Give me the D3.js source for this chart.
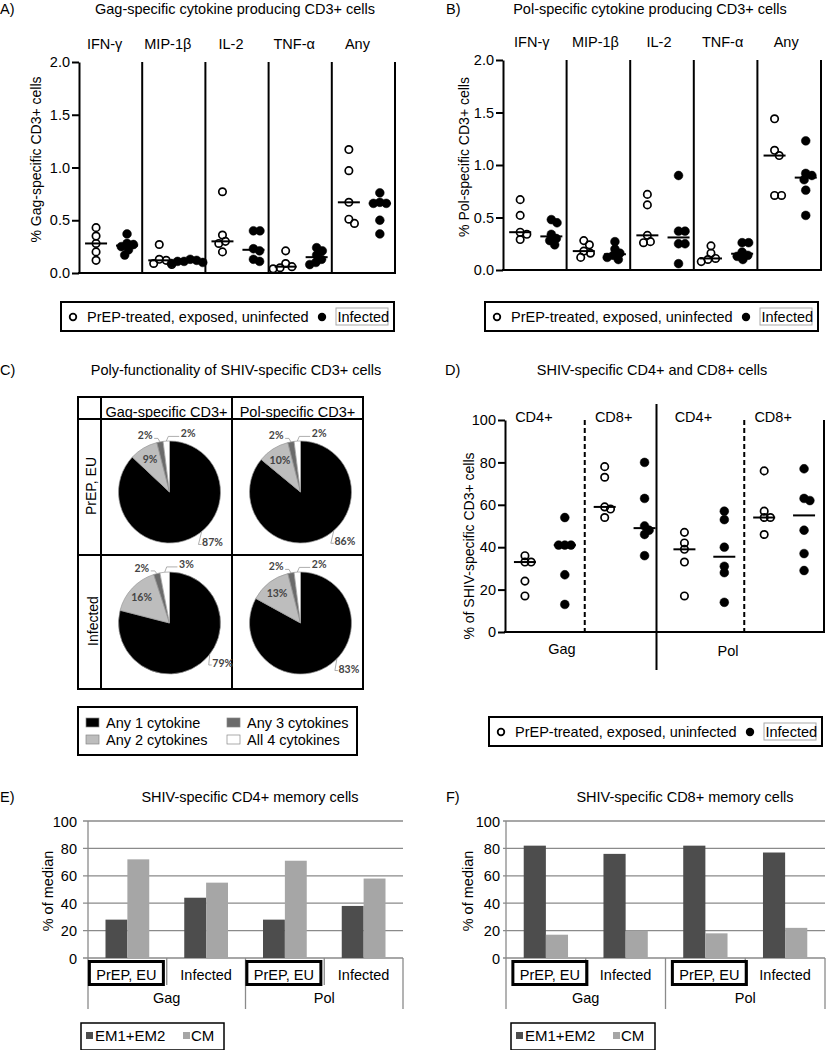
<!DOCTYPE html>
<html><head><meta charset="utf-8">
<script src="https://cdn.jsdelivr.net/npm/d3@7"></script>
<style>body{margin:0;background:#fff}svg{display:block}</style>
</head><body>
<script>
// ---------------- DATA ----------------
const cytokines = ["IFN-γ","MIP-1β","IL-2","TNF-α","Any"];
const yTicksCyto = [0.0,0.5,1.0,1.5,2.0];
// Panel A (Gag) – one array per cytokine
const gagUninfected = [[0.43,0.35,0.28,0.20,0.12],[0.27,0.13,0.12,0.09,0.08],[0.77,0.36,0.30,0.28,0.20],[0.21,0.09,0.06,0.05,0.04],[1.17,0.97,0.67,0.51,0.47]];
const gagInfected   = [[0.37,0.28,0.27,0.25,0.22,0.17],[0.13,0.12,0.11,0.11,0.10,0.09],[0.40,0.40,0.23,0.21,0.13,0.11],[0.24,0.21,0.17,0.13,0.10,0.08],[0.76,0.67,0.66,0.66,0.50,0.37]];
// Panel B (Pol)
const polUninfected = [[0.67,0.52,0.36,0.34,0.29],[0.28,0.24,0.18,0.16,0.12],[0.72,0.62,0.33,0.27,0.26],[0.23,0.16,0.11,0.10,0.08],[1.44,1.14,1.09,0.71,0.71]];
const polInfected   = [[0.48,0.45,0.34,0.30,0.28,0.24],[0.27,0.20,0.16,0.14,0.12,0.10],[0.90,0.37,0.37,0.25,0.25,0.06],[0.26,0.26,0.17,0.14,0.13,0.10],[1.23,0.92,0.90,0.86,0.76,0.52]];
// Panel C (pies)
const pieCategories = ["Any 1 cytokine","Any 2 cytokines","Any 3 cytokines","All 4 cytokines"];
const pieColumns = ["Gag-specific CD3+","Pol-specific CD3+"];
const pieRows = ["PrEP, EU","Infected"];
const pieGagEU = [87,9,2,2];
const piePolEU = [86,10,2,2];
const pieGagInf = [79,16,2,3];
const piePolInf = [83,13,2,2];
// Panel D
const dSubsets = ["CD4+","CD8+","CD4+","CD8+"];
const dAntigens = ["Gag","Pol"];
const dTicks = [0,20,40,60,80,100];
const dUninfected = [[36,33,33,24,17],[78,73,59,58,54],[47,42,39,33,17],[76,57,54,54,46]];
const dInfected   = [[54,41,41,41,27,13],[80,63,50,48,46,36],[57,53,40,31,28,14],[77,63,62,48,37,29]];
// Panels E / F
const memCategories = ["PrEP, EU","Infected","PrEP, EU","Infected"];
const memAntigens = ["Gag","Pol"];
const memSeries = ["EM1+EM2","CM"];
const memTicks = [0,20,40,60,80,100];
const cd4EM = [28,44,28,38];
const cd4CM = [72,55,71,58];
const cd8EM = [82,76,82,77];
const cd8CM = [17,20,18,22];

// ---------------- DRAWING ----------------
const FONT = "'Liberation Sans', Arial, Helvetica, sans-serif";
const svg = d3.select("body").append("svg").attr("width",826).attr("height",1050)
  .style("font-family",FONT);

function txt(x,y,s,o={}){
  return svg.append("text").attr("x",x).attr("y",y).text(s)
    .attr("font-size",o.size||14.5).attr("text-anchor",o.anchor||"start")
    .attr("fill",o.fill||"#000").attr("font-weight",o.weight||"normal")
    .attr("font-family",o.family||FONT);
}
function vtxt(x,y,s,o={}){
  svg.append("text").attr("transform",`translate(${x},${y}) rotate(-90)`).text(s)
    .attr("font-size",o.size||14.5).attr("text-anchor","middle").attr("font-family",FONT);
}
function line(x1,y1,x2,y2,o={}){
  return svg.append("line").attr("x1",x1).attr("y1",y1).attr("x2",x2).attr("y2",y2)
    .attr("stroke",o.stroke||"#000").attr("stroke-width",o.w||2)
    .attr("stroke-dasharray",o.dash||null);
}
function styleAxis(ax,w=2,size=14.5){
  ax.attr("font-family",FONT);
  ax.select(".domain").attr("stroke-width",w);
  ax.selectAll(".tick line").attr("stroke-width",w);
  ax.selectAll(".tick text").attr("font-size",size).attr("fill","#000");
}
function swarm(vals,cx,y,sep){
  const pts = vals.map(v=>({v,y:y(v)})).sort((a,b)=>b.v-a.v);
  const placed=[];
  for(const p of pts){
    const c=[0];
    for(const q of placed){const dy=Math.abs(q.y-p.y); if(dy<sep){const dx=Math.sqrt(sep*sep-dy*dy); c.push(q.dx+dx,q.dx-dx);}}
    c.sort((a,b)=>Math.abs(a)-Math.abs(b)||b-a);
    for(const d of c){ if(placed.every(q=>(q.dx-d)**2+(q.y-p.y)**2>=sep*sep-0.01)){p.dx=d;break;} }
    placed.push(p);
  }
  return placed.map(p=>({v:p.v,x:cx+p.dx,y:p.y}));
}
function dots(vals,cx,y,filled,sep){
  const pts = swarm(vals,cx,y,sep);
  svg.append("g").selectAll("circle").data(pts).join("circle")
    .attr("cx",d=>d.x).attr("cy",d=>d.y).attr("r",filled?4.4:3.7)
    .attr("fill",filled?"#000":"none").attr("stroke","#000").attr("stroke-width",filled?0.5:1.7);
  const m = d3.median(vals);
  line(cx-11,y(m),cx+11,y(m),{w:2});
}
function groupLegend(x,y){
  const w=333,h=29;
  svg.append("rect").attr("x",x).attr("y",y).attr("width",w).attr("height",h)
    .attr("fill","none").attr("stroke","#000").attr("stroke-width",2);
  svg.append("circle").attr("cx",x+12).attr("cy",y+15).attr("r",3.3).attr("fill","none").attr("stroke","#000").attr("stroke-width",1.8);
  txt(x+26,y+20,"PrEP-treated, exposed, uninfected");
  svg.append("circle").attr("cx",x+261).attr("cy",y+15).attr("r",4.2).attr("fill","#000");
  svg.append("rect").attr("x",x+275).attr("y",y+6).attr("width",52).attr("height",17)
    .attr("fill","none").attr("stroke","#aaa").attr("stroke-width",1);
  txt(x+276.5,y+20,"Infected");
}

// ---- Panels A & B ----
function cytoPanel(o){
  const y = d3.scaleLinear().domain([0,2]).range([o.yBot,o.yTop]);
  const x = d3.scaleBand().domain(cytokines).range([o.xL,o.xR]);
  const bw = x.bandwidth();
  const xi = d3.scalePoint().domain(["eu","inf"]).range([bw*0.27,bw*0.76]);
  const ax = svg.append("g").attr("transform",`translate(${o.xL},0)`)
    .call(d3.axisLeft(y).tickValues(yTicksCyto).tickFormat(d3.format(".1f")).tickSize(7).tickSizeOuter(0).tickPadding(2));
  styleAxis(ax);
  line(o.xL-1,o.yBot,o.xR+1,o.yBot);
  cytokines.forEach((c,i)=>{
    line(x(c)+bw,o.yTop,x(c)+bw,o.yBot);
    txt(x(c)+bw/2+o.labOff,o.yTop-13.5,c,{anchor:"middle"});
    dots(o.eu[i],x(c)+xi("eu"),y,false,7);
    dots(o.inf[i],x(c)+xi("inf"),y,true,6.5);
  });
  vtxt(o.ylabX,(o.yTop+o.yBot)/2-8,o.ylab,{size:14});
}
txt(0,13.5,"A)");
txt(235,13.5,"Gag-specific  cytokine producing CD3+ cells",{anchor:"middle"});
cytoPanel({xL:79,xR:395,yTop:62,yBot:273,eu:gagUninfected,inf:gagInfected,labOff:-6,ylab:"% Gag-specific CD3+ cells",ylabX:40.5});
groupLegend(61,302);

txt(446,13.5,"B)");
txt(650,13.5,"Pol-specific  cytokine producing CD3+ cells",{anchor:"middle"});
cytoPanel({xL:503,xR:821,yTop:60,yBot:270,eu:polUninfected,inf:polInfected,labOff:-3,ylab:"% Pol-specific CD3+ cells",ylabX:469});
groupLegend(485,302);

// ---- Panel C ----
txt(0,375,"C)");
txt(236,375,"Poly-functionality of SHIV-specific CD3+ cells",{anchor:"middle"});
const tX=[78,101,232,363], tY=[397,419,555,689];
svg.append("rect").attr("x",tX[0]).attr("y",tY[0]).attr("width",tX[3]-tX[0]).attr("height",tY[3]-tY[0])
  .attr("fill","none").attr("stroke","#000").attr("stroke-width",2);
line(tX[1],tY[0],tX[1],tY[3]); line(tX[2],tY[0],tX[2],tY[3]);
line(tX[0],tY[1],tX[3],tY[1]); line(tX[0],tY[2],tX[3],tY[2]);
pieColumns.forEach((c,j)=>txt((tX[j+1]+tX[j+2])/2,417,c,{anchor:"middle"}));
pieRows.forEach((r,i)=>vtxt(96+i*1.5,(tY[i+1]+tY[i+2])/2-1,r,{size:14}));
const pieColors = ["#000000","#bdbdbd","#6b6b6b","#ffffff"];
const R = 51;
const pieGen = d3.pie().sort(null).value(d=>d);
const arcGen = d3.arc().innerRadius(0).outerRadius(R);
const pieSets = [[pieGagEU,piePolEU],[pieGagInf,piePolInf]];
const LBL = {size:10.5,weight:"bold",fill:"#444",anchor:"middle",family:"Lato, 'Open Sans', sans-serif"};
pieSets.forEach((row,i)=>row.forEach((vals,j)=>{
  const cx=(tX[j+1]+tX[j+2])/2+3, cy=(tY[i+1]+tY[i+2])/2+(i===0?5:1);
  const g=svg.append("g").attr("transform",`translate(${cx},${cy})`);
  const arcs=pieGen(vals);
  g.selectAll("path").data(arcs).join("path").attr("d",arcGen)
    .attr("fill",(d,k)=>pieColors[k]).attr("stroke","#9a9a9a").attr("stroke-width",0.7);
  const pt=(a,r)=>[cx+Math.sin(a)*r,cy-Math.cos(a)*r];
  // big slice
  const a0=arcs[0].startAngle+(arcs[0].endAngle-arcs[0].startAngle)*0.45;
  const p0=pt(a0,R+14), e0=pt(a0,R);
  svg.append("path").attr("d",`M${e0[0]},${e0[1]}L${p0[0]-12},${p0[1]+2}L${p0[0]-9},${p0[1]+2}`)
    .attr("fill","none").attr("stroke","#999").attr("stroke-width",0.8);
  txt(p0[0]+2,p0[1]+4,vals[0]+"%",LBL);
  // second slice inside
  const a1=(arcs[1].startAngle+arcs[1].endAngle)/2, p1=pt(a1,R*0.75);
  txt(p1[0],p1[1]+4,vals[1]+"%",LBL);
  // small slices outside
  const a2=(arcs[2].startAngle+arcs[2].endAngle)/2, p2=pt(a2-0.2,R+8), e2=pt(a2,R);
  svg.append("path").attr("d",`M${e2[0]},${e2[1]}L${e2[0]-2},${p2[1]+1}L${p2[0]+7},${p2[1]+1}`)
    .attr("fill","none").attr("stroke","#999").attr("stroke-width",0.8);
  txt(p2[0]-2,p2[1]+2,vals[2]+"%",LBL);
  const a3=(arcs[3].startAngle+arcs[3].endAngle)/2, p3=pt(a3+0.35,R+8), e3=pt(a3,R);
  svg.append("path").attr("d",`M${e3[0]},${e3[1]}L${e3[0]+2},${p3[1]+1}L${p3[0]-7},${p3[1]+1}`)
    .attr("fill","none").attr("stroke","#999").attr("stroke-width",0.8);
  txt(p3[0]+2,p3[1]+2,vals[3]+"%",LBL);
}));
// legend C
svg.append("rect").attr("x",78).attr("y",707).attr("width",279).attr("height",48)
  .attr("fill","none").attr("stroke","#000").attr("stroke-width",2);
const legPos=[[86,718],[86,735],[227,718],[227,735]];
pieCategories.forEach((c,k)=>{
  svg.append("rect").attr("x",legPos[k][0]).attr("y",legPos[k][1]).attr("width",13).attr("height",9)
    .attr("fill",pieColors[k]).attr("stroke","#888").attr("stroke-width",0.7);
  txt(legPos[k][0]+20,legPos[k][1]+10,c);
});

// ---- Panel D ----
txt(445,375,"D)");
txt(652,375,"SHIV-specific CD4+ and CD8+ cells",{anchor:"middle"});
{
  const y=d3.scaleLinear().domain([0,100]).range([632,420]);
  const x=d3.scaleBand().domain(d3.range(4)).range([505,824]);
  const bw=x.bandwidth();
  const xi=d3.scalePoint().domain(["eu","inf"]).range([bw*0.25,bw*0.75]);
  const ax=svg.append("g").attr("transform","translate(505,0)")
    .call(d3.axisLeft(y).tickValues(dTicks).tickSize(7).tickSizeOuter(0).tickPadding(2));
  styleAxis(ax);
  line(504,632,825,632);
  line(824,420,824,633);
  line(x(1),420,x(1),632,{dash:"5,3"});
  line(x(3),420,x(3),632,{dash:"5,3"});
  line(x(2)-8,404,x(2)-8,670);
  dSubsets.forEach((s,i)=>{
    txt(x(i)+bw/2-11,422,s,{anchor:"middle"});
    dots(dUninfected[i],x(i)+xi("eu"),y,false,6.2);
    dots(dInfected[i],x(i)+xi("inf"),y,true,6.2);
  });
  dAntigens.forEach((a,k)=>txt(k===0?562:728,k===0?654:656,a,{anchor:"middle"}));
  vtxt(474,546,"% of SHIV-specific CD3+ cells",{size:14});
}
groupLegend(489,717);

// ---- Panels E & F ----
function memPanel(o){
  const y=d3.scaleLinear().domain([0,100]).range([958,821]);
  const x=d3.scaleBand().domain(d3.range(4)).range([o.xL,o.xR]);
  const xi=d3.scaleBand().domain(memSeries).range([0,x.bandwidth()]).paddingOuter(0.8);
  const gc="#8a8a8a";
  memTicks.forEach(t=>{
    line(o.xL-o.tick,y(t),o.xR,y(t),{stroke:gc,w:1.3});
    txt(o.labX,y(t)+5.5,t,{anchor:"end"});
  });
  line(o.xL,821,o.xL,1009,{stroke:gc,w:1.3});
  [1,3].forEach(i=>line(x(i),958,x(i),985,{stroke:gc,w:1.3}));
  line(x(2),958,x(2),1009,{stroke:gc,w:1.3});
  line(o.xR,958,o.xR,1009,{stroke:gc,w:1.3});
  const series=[o.em,o.cm], cols=["#4d4d4d","#a6a6a6"];
  memSeries.forEach((s,k)=>{
    svg.append("g").selectAll("rect").data(series[k]).join("rect")
      .attr("x",(d,i)=>x(i)+xi(s)).attr("y",d=>y(d)).attr("width",xi.bandwidth())
      .attr("height",d=>958-y(d)).attr("fill",cols[k]);
  });
  memCategories.forEach((c,i)=>{
    const cx=x(i)+x.bandwidth()/2;
    if(i%2===0){
      svg.append("rect").attr("x",cx-37+o.boxOff).attr("y",961.5).attr("width",74).attr("height",23)
        .attr("fill","none").attr("stroke","#000").attr("stroke-width",3);
    }
    txt(cx+(i%2===0?o.boxOff:0),980,c,{anchor:"middle"});
  });
  memAntigens.forEach((a,k)=>txt(x(2*k+1),1003,a,{anchor:"middle"}));
  vtxt(o.ylabX,891,"% of median");
  // legend
  svg.append("rect").attr("x",o.legX).attr("y",1023).attr("width",o.legW).attr("height",27)
    .attr("fill","none").attr("stroke","#000").attr("stroke-width",1.5);
  svg.append("rect").attr("x",o.legX+5).attr("y",1032).attr("width",7).attr("height",7).attr("fill",cols[0]);
  txt(o.legX+14,1041,memSeries[0],{size:15});
  svg.append("rect").attr("x",o.legX+102).attr("y",1032).attr("width",7).attr("height",7).attr("fill",cols[1]);
  txt(o.legX+110,1041,memSeries[1],{size:15});
}
txt(0,802,"E)");
txt(250,802,"SHIV-specific CD4+ memory cells",{anchor:"middle"});
memPanel({xL:88,xR:403,em:cd4EM,cm:cd4CM,tick:5,labX:77,ylabX:53,legX:81,legW:143,boxOff:-1});
txt(446,802,"F)");
txt(685,802,"SHIV-specific CD8+ memory cells",{anchor:"middle"});
memPanel({xL:506,xR:825,em:cd8EM,cm:cd8CM,tick:3,labX:500,ylabX:473,legX:511,legW:144,boxOff:4});
</script>
</body></html>
